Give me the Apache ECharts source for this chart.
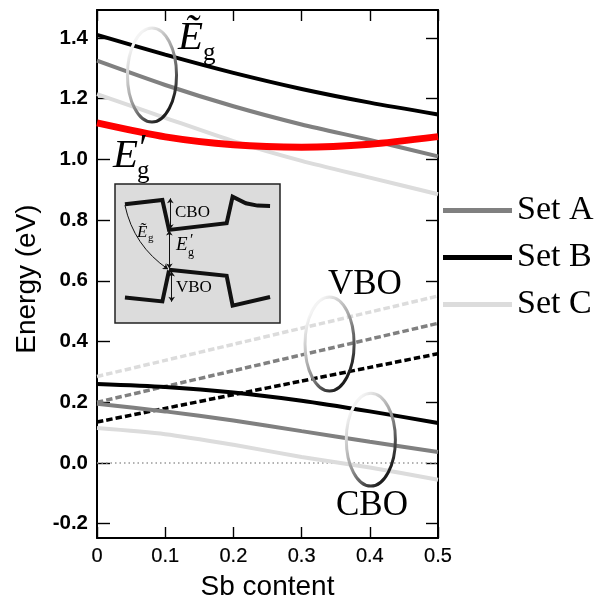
<!DOCTYPE html>
<html><head><meta charset="utf-8">
<style>html,body{margin:0;padding:0;background:#fff}#c{width:604px;height:600px}</style>
<script src="https://cdn.jsdelivr.net/npm/echarts@6/dist/echarts.min.js"></script></head>
<body><div id="c"></div>
<script>
const sb = [0, 0.1, 0.2, 0.3, 0.4, 0.5];
const yTicks = [-0.2, 0, 0.2, 0.4, 0.6, 0.8, 1.0, 1.2, 1.4];
const egTildeA = [1.325, 1.245, 1.175, 1.115, 1.064, 1.01];
const egTildeB = [1.41, 1.345, 1.285, 1.232, 1.187, 1.148];
const egTildeC = [1.215, 1.137, 1.06, 0.995, 0.94, 0.885];
const egPrime = [1.12, 1.074, 1.048, 1.04, 1.05, 1.075];
const vboA = [0.2, 0.252, 0.304, 0.356, 0.408, 0.46];
const vboB = [0.135, 0.18, 0.225, 0.27, 0.315, 0.36];
const vboC = [0.285, 0.338, 0.391, 0.444, 0.497, 0.55];
const cboA = [0.195, 0.17, 0.14, 0.105, 0.07, 0.036];
const cboB = [0.26, 0.25, 0.232, 0.205, 0.17, 0.132];
const cboC = [0.115, 0.095, 0.06, 0.02, -0.015, -0.055];
const zeroLine = [0, 0, 0, 0, 0, 0];
const ellipses = [[0.0806, 1.278, 0.036, 0.155], [0.341, 0.392, 0.036, 0.155], [0.4015, 0.077, 0.036, 0.153]];
const insetUpper = [[75,103],[188,90],[208,180],[382,160],[400,80],[440,100],[475,107],[513,108]];
const insetLowerL = [[75,383],[188,395],[208,302]];
const insetLowerR = [[208,300],[382,318],[400,408],[513,382]];
const insetArrows = [[[212,85],[212,178]],[[209,182],[209,296]],[[216,305],[216,396]]];
const insetCurve = [[[75,106],[205,298]]];
const colA = '#808080', colB = '#000000', colC = '#dcdcdc';

const zip = v => sb.map((x, i) => [x, v[i]]);
const curve = (name, v, color, width, type) => ({
  name, type: 'line', data: zip(v), smooth: 0.25, symbol: 'none', xAxisIndex: 0, yAxisIndex: 0,
  lineStyle: {color, width, type: type || 'solid', cap: 'butt'}, itemStyle: {color}
});
const inset = (v, w) => ({
  type: 'line', data: v, symbol: 'none', xAxisIndex: 2, yAxisIndex: 2, silent: true, z: 5,
  lineStyle: {color: '#111', width: w, join: 'miter'}
});
const serif = '"Liberation Serif"';
const txt = (x, y, text, size, style) => ({
  type: 'text', x, y, z: 50,
  style: {text, fontFamily: serif, fontSize: size, fontStyle: style || 'normal', fill: '#000', verticalAlign: 'middle'}
});
const ch = echarts.init(document.getElementById('c'), null, {renderer: 'canvas'});
const tickLine = {color: '#000', width: 1.4};
const sans = {fontFamily: '"Liberation Sans"', color: '#000'};
ch.setOption({
  animation: false, backgroundColor: '#fff',
  grid: [
    {left: 97, top: 10, width: 341, height: 528, show: false, outerBoundsMode: 'none'},
    {left: 115, top: 184, width: 165, height: 139, show: true, backgroundColor: '#dcdcdc', borderColor: '#222', borderWidth: 1.5, z: 3, outerBoundsMode: 'none'}
  ],
  legend: {
    data: ['Set A', 'Set B', 'Set C'], orient: 'vertical', left: 443, top: 191, icon: 'rect', itemWidth: 69, itemHeight: 5, itemGap: 8,
    textStyle: {fontFamily: serif, fontSize: 34, color: '#000', lineHeight: 39}, padding: 0, selectedMode: false
  },
  xAxis: [
    {type: 'value', min: 0, max: 0.5, interval: 0.1, gridIndex: 0, name: 'Sb content', nameLocation: 'middle', nameGap: 35,
     nameTextStyle: Object.assign({}, sans, {fontSize: 28}),
     axisLine: {onZero: false, lineStyle: {color: '#000', width: 2}}, splitLine: {show: false},
     axisTick: {inside: true, length: 11, lineStyle: tickLine},
     axisLabel: Object.assign({}, sans, {fontSize: 20, margin: 8, textBorderColor: '#000', textBorderWidth: 0.2,
       formatter: v => v === 0 ? '0' : String(v), showMinLabel: true, showMaxLabel: true})},
    {type: 'value', min: 0, max: 0.5, interval: 0.1, gridIndex: 0, position: 'top',
     axisLine: {onZero: false, show: true, lineStyle: {color: '#000', width: 2}}, splitLine: {show: false},
     axisTick: {inside: true, length: 11, lineStyle: tickLine}, axisLabel: {show: false}},
    {type: 'value', min: 45, max: 543, gridIndex: 1, show: false}
  ],
  yAxis: [
    {type: 'value', min: -0.247, max: 1.492, gridIndex: 0, name: 'Energy (eV)', nameLocation: 'middle', nameGap: 54, nameRotate: 90,
     nameTextStyle: Object.assign({}, sans, {fontSize: 28, padding: [0, 10, 0, 0]}),
     axisLine: {onZero: false, show: true, lineStyle: {color: '#000', width: 2}}, splitLine: {show: false},
     axisTick: {inside: true, length: 13, lineStyle: tickLine, customValues: yTicks},
     axisLabel: Object.assign({}, sans, {fontSize: 20.5, fontWeight: 'bold', margin: 9, customValues: yTicks, formatter: v => v.toFixed(1)})},
    {type: 'value', min: -0.247, max: 1.492, gridIndex: 0, position: 'right',
     axisLine: {onZero: false, show: true, lineStyle: {color: '#000', width: 2}}, splitLine: {show: false},
     axisTick: {inside: true, length: 12, lineStyle: tickLine, customValues: yTicks}, axisLabel: {show: false}},
    {type: 'value', min: 42, max: 460, inverse: true, gridIndex: 1, show: false}
  ],
  series: [
    {name: 'zero', type: 'line', data: zip(zeroLine), symbol: 'none', lineStyle: {color: '#999', width: 1.5, type: [1.5, 3]}},
    curve('Set C', egTildeC, colC, 4),
    curve('Set A', egTildeA, colA, 4),
    curve('Set B', egTildeB, colB, 4),
    curve('Eg prime', egPrime, '#ff0000', 7),
    curve('VBO C', vboC, colC, 3.5, [6.5, 3]),
    curve('VBO A', vboA, colA, 3.5, [6.5, 3]),
    curve('VBO B', vboB, colB, 3.5, [6.5, 3]),
    curve('CBO C', cboC, colC, 4),
    curve('CBO A', cboA, colA, 4),
    curve('CBO B', cboB, colB, 4),
    {type: 'custom', coordinateSystem: 'cartesian2d', data: ellipses, z: 6, silent: true, clip: false,
     encode: {x: 0, y: 1},
     renderItem: (p, api) => {
       const c = api.coord([api.value(0), api.value(1)]);
       const s = api.size([api.value(2), api.value(3)]);
       return {type: 'ellipse', shape: {cx: c[0], cy: c[1], rx: s[0], ry: s[1]},
         style: {fill: 'none', lineWidth: 3,
           stroke: new echarts.graphic.LinearGradient(0, 0.3, 1, 0.7, [
             {offset: 0, color: '#f4f4f4'}, {offset: 0.45, color: '#a8a8a8'}, {offset: 1, color: '#1c1c1c'}])}};
     }},
    inset(insetUpper, 4), inset(insetLowerL, 4), inset(insetLowerR, 4),
    {type: 'lines', coordinateSystem: 'cartesian2d', xAxisIndex: 2, yAxisIndex: 2, z: 6, silent: true,
     data: insetArrows.map(c => ({coords: c})), symbol: ['arrow', 'arrow'], symbolSize: 5,
     lineStyle: {color: '#111', width: 1, curveness: 0, opacity: 1}},
    {type: 'lines', coordinateSystem: 'cartesian2d', xAxisIndex: 2, yAxisIndex: 2, z: 6, silent: true,
     data: insetCurve.map(c => ({coords: c})), symbol: ['none', 'arrow'], symbolSize: 5,
     lineStyle: {color: '#111', width: 1, curveness: -0.2, opacity: 1}}
  ],
  graphic: [
    txt(178, 38, 'Ẽ', 41, 'italic'),
    txt(203, 53, 'g', 25),
    txt(113, 156, 'E', 41, 'italic'),
    txt(137, 150, '′', 38, 'italic'),
    txt(137, 171, 'g', 25),
    txt(328, 285, 'VBO', 35),
    txt(336, 506, 'CBO', 35),
    txt(175, 213, 'CBO', 17),
    txt(176, 288, 'VBO', 17),
    txt(176, 245, 'E', 19, 'italic'),
    txt(189, 241, '′', 16, 'italic'),
    txt(188, 253, 'g', 12),
    txt(137, 233, 'Ẽ', 17, 'italic'),
    txt(148, 238, 'g', 11)
  ]
});
</script></body></html>
